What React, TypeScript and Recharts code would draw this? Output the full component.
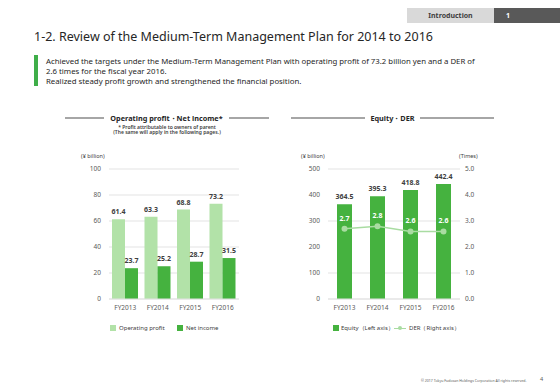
import React from 'react';
import {
  BarChart,
  ComposedChart,
  Bar,
  Line,
  XAxis,
  YAxis,
  CartesianGrid,
  LabelList,
} from 'recharts';

const years = ['FY2013', 'FY2014', 'FY2015', 'FY2016'];
const operatingProfit = [61.4, 63.3, 68.8, 73.2];
const netIncome = [23.7, 25.2, 28.7, 31.5];
const equity = [364.5, 395.3, 418.8, 442.4];
const der = [2.7, 2.8, 2.6, 2.6];

const profitTicks = [0, 20, 40, 60, 80, 100];
const equityTicks = [0, 100, 200, 300, 400, 500];
const derTicks = [0, 1, 2, 3, 4, 5];

const profitData = years.map((year, i) => ({
  year,
  op: operatingProfit[i],
  ni: netIncome[i],
}));

const equityData = years.map((year, i) => ({
  year,
  equity: equity[i],
  der: der[i],
}));

const FONT = '"Noto Sans", "Liberation Sans", sans-serif';
const LIGHT = '#b2e2a8';
const DARK = '#45b23f';
const LINE = '#a9dca2';
const GRID = '#e3e3e3';
const TICK = { fontSize: 6.5, fill: '#595959', fontFamily: FONT };
const LABEL = { fontSize: 7, fill: '#404040', fontWeight: 700, fontFamily: FONT };

const abs = (left: number, top: number, extra: React.CSSProperties = {}): React.CSSProperties => ({
  position: 'absolute',
  left,
  top,
  whiteSpace: 'nowrap',
  ...extra,
});

function SectionHeader({ x1, x2, t1, t2, y, text }: { x1: number; x2: number; t1: number; t2: number; y: number; text: string }) {
  return (
    <>
      <div style={abs(x1, y - 1, { width: t1 - x1, height: 2, background: '#a6a6a6' })} />
      <div style={abs(t2, y - 1, { width: x2 - t2, height: 2, background: '#a6a6a6' })} />
      <div
        style={abs(t1, y - 6, {
          width: t2 - t1,
          textAlign: 'center',
          fontSize: 7.3,
          fontWeight: 700,
          lineHeight: '12px',
          color: '#262626',
        })}
      >
        {text}
      </div>
    </>
  );
}

export default function App() {
  return (
    <div
      style={{
        position: 'absolute',
        left: 0,
        top: 0,
        width: 560,
        height: 388,
        background: '#fff',
        fontFamily: FONT,
        overflow: 'hidden',
        color: '#262626',
      }}
    >
      {/* header tabs */}
      <div
        style={abs(407, 8, {
          width: 87,
          height: 15,
          background: '#d9d9d9',
          fontSize: 7,
          fontWeight: 700,
          lineHeight: '15px',
          textAlign: 'center',
          color: '#404040',
        })}
      >
        Introduction
      </div>
      <div
        style={abs(494, 8, {
          width: 66,
          height: 15,
          background: '#595959',
          fontSize: 7,
          fontWeight: 700,
          lineHeight: '15px',
          color: '#fff',
          paddingLeft: 12,
          boxSizing: 'border-box',
        })}
      >
        1
      </div>

      <div style={abs(34, 28, { fontSize: 12.5, lineHeight: '17px', color: '#262626' })}>
        1-2. Review of the Medium-Term Management Plan for 2014 to 2016
      </div>

      <div style={abs(34, 55, { width: 4, height: 31, background: '#3fae49' })} />
      <div style={abs(46, 56, { fontSize: 7.8, lineHeight: '10px', color: '#262626' })}>
        Achieved the targets under the Medium-Term Management Plan with operating profit of 73.2 billion yen and a DER of
        <br />
        2.6 times for the fiscal year 2016.
        <br />
        Realized steady profit growth and strengthened the financial position.
      </div>

      {/* left chart */}
      <SectionHeader x1={65} x2={269} t1={104} t2={229} y={118} text="Operating profit・Net income*" />
      <div style={abs(87, 125, { width: 160, textAlign: 'center', fontSize: 5, lineHeight: '5px', fontWeight: 600, color: '#404040' })}>
        * Profit attributable to owners of parent
        <br />
        (The same will apply in the following pages.)
      </div>
      <div style={abs(81, 153, { fontSize: 5.5, lineHeight: '6px', color: '#404040' })}>(¥ billion)</div>

      <div style={abs(60, 160)}>
        <BarChart
          width={190}
          height={160}
          data={profitData}
          margin={{ top: 9, right: 11, bottom: 0, left: 0 }}
          barGap={0}
        >
          <CartesianGrid vertical={false} stroke={GRID} />
          <XAxis
            dataKey="year"
            height={21}
            tickLine={false}
            tickMargin={0}
            axisLine={{ stroke: GRID }}
            tick={TICK}
          />
          <YAxis
            width={49}
            domain={[0, 100]}
            ticks={profitTicks}
            axisLine={false}
            tickLine={false}
            tick={TICK}
          />
          <Bar dataKey="op" fill={LIGHT} barSize={13} isAnimationActive={false}>
            <LabelList dataKey="op" position="top" offset={5} style={LABEL} />
          </Bar>
          <Bar dataKey="ni" fill={DARK} barSize={13} isAnimationActive={false}>
            <LabelList dataKey="ni" position="top" offset={5} style={LABEL} />
          </Bar>
        </BarChart>
      </div>

      <div style={abs(110, 325, { width: 6, height: 6, background: LIGHT })} />
      <div style={abs(119, 324, { fontSize: 6, lineHeight: '8px', color: '#404040' })}>Operating profit</div>
      <div style={abs(177, 325, { width: 6, height: 6, background: DARK })} />
      <div style={abs(186, 324, { fontSize: 6, lineHeight: '8px', color: '#404040' })}>Net income</div>

      {/* right chart */}
      <SectionHeader x1={291} x2={494} t1={365} t2={420} y={118} text="Equity・DER" />
      <div style={abs(301, 153, { fontSize: 5.5, lineHeight: '6px', color: '#404040' })}>(¥ billion)</div>
      <div style={abs(459, 153, { fontSize: 5.5, lineHeight: '6px', color: '#404040' })}>(Times)</div>

      <div style={abs(295, 160)}>
        <ComposedChart
          width={200}
          height={160}
          data={equityData}
          margin={{ top: 9, right: 0, bottom: 0, left: 0 }}
        >
          <CartesianGrid vertical={false} stroke={GRID} yAxisId="left" />
          <XAxis
            dataKey="year"
            height={21}
            tickLine={false}
            tickMargin={0}
            axisLine={{ stroke: GRID }}
            tick={TICK}
          />
          <YAxis
            yAxisId="left"
            width={33}
            domain={[0, 500]}
            ticks={equityTicks}
            axisLine={false}
            tickLine={false}
            tick={TICK}
          />
          <YAxis
            yAxisId="right"
            orientation="right"
            width={35}
            domain={[0, 5]}
            ticks={derTicks}
            tickFormatter={(v: number) => v.toFixed(1)}
            axisLine={false}
            tickLine={false}
            tickSize={5}
            tickMargin={0}
            tick={TICK}
          />
          <Bar yAxisId="left" dataKey="equity" fill={DARK} barSize={15} isAnimationActive={false}>
            <LabelList dataKey="equity" position="top" offset={5} style={LABEL} />
          </Bar>
          <Line
            yAxisId="right"
            dataKey="der"
            stroke={LINE}
            strokeWidth={1.5}
            dot={{ r: 3, fill: LINE, stroke: LINE, strokeWidth: 0 }}
            isAnimationActive={false}
          >
            <LabelList
              dataKey="der"
              position="top"
              offset={8}
              formatter={(v: number) => v.toFixed(1)}
              style={{ ...LABEL, fill: '#fff' }}
            />
          </Line>
        </ComposedChart>
      </div>

      <div style={abs(333, 325, { width: 6, height: 6, background: DARK })} />
      <div style={abs(341, 324, { fontSize: 6, lineHeight: '8px', color: '#404040' })}>Equity（Left axis）</div>
      <div style={abs(394, 327.5, { width: 12, height: 1.2, background: LINE })} />
      <div style={abs(398, 326, { width: 4, height: 4, borderRadius: 2, background: LINE })} />
      <div style={abs(409, 324, { fontSize: 6, lineHeight: '8px', color: '#404040' })}>DER（Right axis）</div>

      {/* footer */}
      <div style={abs(421, 377.5, { fontSize: 3.5, lineHeight: '5px', color: '#595959' })}>
        © 2017 Tokyu Fudosan Holdings Corporation All rights reserved.
      </div>
      <div style={abs(540, 376, { fontSize: 5.5, lineHeight: '6px', color: '#595959' })}>4</div>
    </div>
  );
}
